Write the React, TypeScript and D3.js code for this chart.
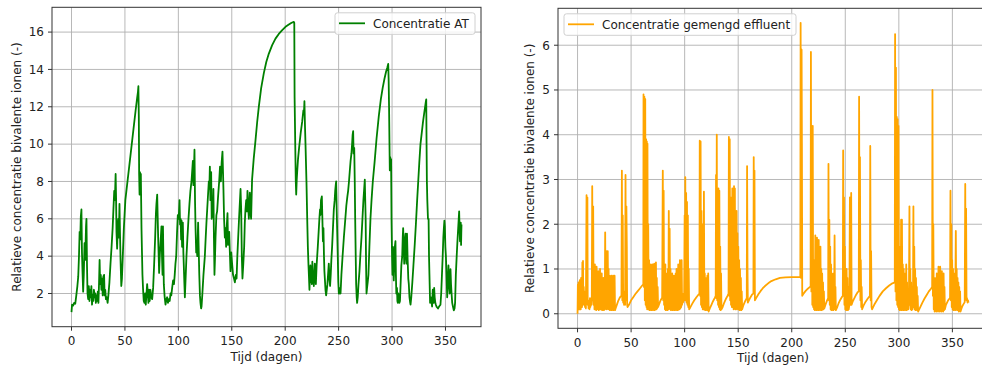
import React from 'react';
import * as d3 from 'd3';

const xTicks = [0, 50, 100, 150, 200, 250, 300, 350];
const atYTicks = [2, 4, 6, 8, 10, 12, 14, 16];
const effYTicks = [0, 1, 2, 3, 4, 5, 6];
const xLabel = 'Tijd (dagen)';
const yLabel = 'Relatieve concentratie bivalente ionen (-)';
const atLegend = 'Concentratie AT';
const effLegend = 'Concentratie gemengd effluent';

// [dag, relatieve concentratie] - Concentratie AT
const atSeries: [number, number][] = [
  [0,1.0],[0.5,1.4],[1.5,1.35],[2.5,1.5],[3.5,1.45],[4.5,1.9],[5.5,2.4],[6.3,2.9],[7,4.0],[7.6,5.3],[8.2,4.9],[8.7,6.1],[9.3,6.5],[9.8,4.2],[10.3,3.2],[10.9,2.1],[11.5,3.0],[12.2,4.7],[12.8,3.8],[13.6,5.6],[14.0,6.0],[14.5,3.5],[15.0,2.0],[15.6,1.7],[16.2,2.4],[16.8,1.6],[17.4,2.2],[18,1.8],[18.6,2.4],[19.2,1.4],[19.8,1.9],[20.4,1.6],[21,2.2],[21.6,1.8],[22.2,2.0],[22.8,1.5],[23.4,1.9],[24,1.6],[24.6,2.1],[25.2,1.5],[25.8,2.6],[26.3,3.8],[26.8,2.5],[27.4,3.0],[28,2.2],[28.6,2.8],[29.2,1.9],[29.8,2.9],[30.5,3.0],[31.0,1.9],[31.6,2.2],[32.2,1.7],[33,1.8],[33.8,1.5],[34.5,1.9],[35.5,2.6],[36.5,3.6],[37.5,4.5],[38.5,5.5],[39.3,6.6],[40.0,7.5],[40.6,7.0],[41.3,8.4],[41.7,7.2],[42.1,5.3],[42.7,4.4],[43.3,5.6],[43.8,6.0],[44.3,5.0],[44.9,6.8],[45.4,5.2],[45.9,3.8],[46.6,2.4],[47.2,2.8],[48,4.0],[49,5.5],[50.4,7.0],[52,7.8],[54,8.8],[56,9.8],[58,10.8],[60,11.8],[61.5,12.5],[62.2,12.8],[62.6,13.1],[63.0,11.5],[63.3,8.4],[63.7,7.3],[64.1,8.5],[64.5,7.5],[64.9,8.4],[65.5,5.5],[66.4,3.0],[67,2.2],[67.6,1.6],[68.3,1.5],[68.9,2.0],[69.5,1.4],[70.2,2.0],[70.8,2.5],[71.4,2.0],[72.0,1.5],[72.5,2.2],[73.2,1.6],[73.9,2.2],[74.6,1.8],[75.5,1.7],[76.4,2.3],[77.3,3.5],[78.3,5.0],[79.0,6.3],[79.5,6.8],[80.2,7.3],[80.7,6.0],[81.1,5.0],[81.6,4.0],[82.0,3.1],[82.6,4.0],[83.4,4.8],[84.2,5.6],[84.7,4.0],[85.2,3.0],[85.6,5.6],[86.0,4.0],[86.4,2.5],[87.2,1.8],[88.0,1.4],[88.8,1.7],[89.5,1.8],[90.3,1.5],[91.1,1.7],[91.9,1.6],[92.7,2.0],[93.4,1.9],[94.2,2.3],[95.1,2.7],[95.9,2.5],[96.6,3.0],[97.3,3.6],[98.0,4.0],[98.8,5.3],[99.5,6.2],[100.3,6.0],[101.1,7.0],[101.6,5.7],[102.1,6.0],[102.6,4.9],[103.0,5.9],[103.5,4.5],[104.2,5.8],[104.7,4.2],[105.1,3.5],[105.6,2.6],[106.1,1.8],[106.8,2.8],[107.6,4.0],[108.5,5.0],[109.5,6.0],[110.4,6.8],[111.3,7.5],[112.3,8.0],[113.0,8.6],[113.6,9.1],[114.1,7.8],[114.6,8.6],[115.1,9.7],[115.6,7.0],[116.1,5.5],[116.7,4.2],[117.2,4.5],[117.7,4.0],[118.5,5.8],[119.0,4.5],[119.6,3.0],[120.2,1.9],[120.7,1.5],[121.3,1.2],[121.7,1.3],[122.5,2.0],[123.5,3.0],[124.8,4.0],[125.6,5.0],[126.3,5.8],[127,6.5],[127.8,7.3],[128.5,8.0],[129.0,7.6],[129.5,8.8],[130.0,7.0],[130.7,8.5],[131.2,6.0],[131.8,6.9],[132.3,6.1],[132.8,7.6],[133.3,5.0],[133.8,3.0],[134.3,3.9],[134.8,5.0],[135.6,6.2],[136.3,6.4],[137.2,7.2],[138.2,8.0],[139.0,8.8],[139.8,8.0],[140.5,9.0],[141.3,9.6],[141.8,8.5],[142.2,7.6],[142.8,6.0],[143.5,5.0],[144.1,5.5],[144.7,4.5],[145.3,5.6],[146.0,6.3],[146.5,4.6],[147.0,5.0],[147.6,5.3],[148.2,4.2],[148.8,3.2],[149.5,4.2],[150.3,3.6],[151.2,3.0],[152.1,2.8],[152.9,2.6],[153.8,3.0],[154.5,2.8],[155.2,4.0],[156.0,5.0],[156.8,6.0],[157.5,6.8],[158.2,7.6],[158.8,6.5],[159.4,4.0],[160.0,2.8],[160.8,3.6],[161.6,4.5],[162.2,5.8],[162.8,6.5],[163.5,7.0],[164.2,6.4],[164.7,7.5],[165.4,6.6],[166.0,6.0],[166.5,6.8],[166.9,7.4],[167.5,6.4],[168.1,6.0],[169,8.1],[170.5,9.2],[172.2,10.2],[173.8,11.2],[175.3,12.0],[177.5,13.0],[180,13.8],[182.3,14.4],[184.7,14.85],[187.8,15.3],[190.9,15.65],[194,15.9],[197.2,16.1],[200.3,16.28],[203.4,16.4],[206,16.5],[208.1,16.55],[208.5,16.5],[208.8,12.5],[209.4,10.0],[209.9,8.0],[210.3,7.3],[210.8,8.1],[211.2,8.5],[212,9.2],[213,9.8],[214.5,10.6],[215.9,11.2],[217,11.8],[217.5,11.6],[218,12.3],[218.5,11.0],[219.0,10.0],[219.9,8.0],[220.6,6.0],[221.2,4.5],[221.8,3.5],[222.3,2.8],[222.7,2.2],[223.2,3.0],[223.6,3.5],[224.0,2.6],[224.5,3.0],[225.0,2.5],[225.4,3.7],[225.9,2.6],[226.3,3.0],[226.8,2.4],[227.3,3.2],[227.7,3.6],[228.2,2.8],[228.7,2.5],[229.4,3.5],[230.5,4.5],[231.3,5.3],[232.0,6.0],[232.6,6.5],[233.0,6.2],[233.5,7.0],[234.3,7.2],[234.8,6.0],[235.3,4.8],[235.8,5.5],[236.3,4.0],[236.7,3.2],[237.1,2.8],[237.7,2.2],[238.3,1.9],[238.9,2.2],[239.5,2.5],[240.1,3.0],[240.8,3.6],[241.4,2.8],[242.0,2.4],[242.6,3.0],[243.2,3.8],[243.9,4.5],[244.7,5.5],[245.5,6.5],[246.3,7.0],[246.8,7.5],[247.3,7.8],[247.7,8.0],[248.2,6.5],[248.6,5.5],[249.2,4.0],[249.7,2.6],[250.2,2.0],[250.8,2.0],[251.3,2.3],[251.8,2.0],[252.6,3.0],[253.7,4.0],[254.9,5.0],[256,5.8],[257.2,6.7],[258.2,7.2],[258.9,7.5],[259.7,8.0],[260.5,8.6],[261.2,9.1],[262.0,9.5],[262.6,10.0],[263.1,10.5],[263.6,10.7],[264.0,9.5],[264.6,9.8],[265.1,8.0],[265.5,6.0],[266.0,4.0],[266.4,2.5],[266.9,1.8],[267.3,1.5],[267.9,1.8],[268.6,2.5],[269.5,3.2],[270.5,4.2],[271.4,5.0],[272.3,6.0],[273.2,7.0],[273.9,7.6],[274.5,8.1],[274.9,7.0],[275.3,6.0],[275.7,3.5],[276.1,2.0],[276.6,2.3],[277.2,2.6],[277.9,3.0],[278.8,4.5],[279.8,6.0],[280.8,7.0],[282,8.0],[283.6,9.0],[285.5,10.3],[287.6,11.5],[289.5,12.4],[291.2,13.0],[292.9,13.5],[294.5,13.9],[295.6,14.1],[296.4,14.3],[296.8,13.5],[297.2,12.0],[297.6,10.0],[297.9,8.6],[298.3,9.3],[298.7,8.7],[299.1,9.2],[299.5,6.0],[300.0,4.0],[300.4,3.0],[300.8,4.5],[301.2,3.5],[301.6,2.7],[302.1,3.6],[302.6,4.5],[303.2,4.8],[303.6,3.0],[304.0,2.0],[304.6,2.3],[305.0,1.6],[305.4,1.5],[305.9,2.0],[306.4,1.7],[306.9,1.5],[307.4,1.6],[308.0,2.5],[308.7,3.5],[309.5,4.0],[310.0,5.0],[310.4,5.5],[310.9,4.5],[311.4,3.6],[312.0,4.8],[312.6,5.2],[313.0,4.0],[313.5,3.6],[314.0,5.2],[314.6,3.8],[315.2,2.8],[315.7,2.5],[316.3,1.8],[317.0,1.5],[317.3,1.4],[318.0,1.8],[319.0,2.6],[320.0,3.5],[321.2,4.6],[322.4,5.8],[323.5,7.0],[324.5,8.0],[325.5,9.0],[326.6,10.0],[327.8,10.6],[329,11.2],[330.2,11.7],[331.2,12.1],[331.7,12.3],[332.0,12.4],[332.3,10.0],[332.6,8.0],[333,7.0],[333.6,6.0],[334.2,6.0],[334.6,4.0],[335.0,3.0],[335.6,1.5],[336.2,1.8],[336.8,1.6],[337.5,1.3],[338.1,2.2],[338.6,1.6],[339.0,1.5],[339.4,2.3],[339.9,1.8],[340.5,1.5],[341.0,1.4],[341.6,1.3],[342.3,1.25],[343,1.2],[344,1.3],[345.3,1.4],[346,2.0],[346.7,3.0],[347.4,4.0],[348.0,5.0],[348.5,5.5],[349.0,5.9],[349.4,5.6],[349.9,4.5],[350.4,4.0],[351.0,3.0],[351.6,1.8],[352.2,2.5],[352.8,3.5],[353.4,2.5],[354.0,2.0],[354.7,3.3],[355.2,2.5],[355.7,2.0],[356.3,1.5],[357.0,1.3],[357.8,1.1],[358.5,1.2],[359.0,1.5],[359.7,3.0],[360.5,4.0],[361.2,4.8],[361.9,5.5],[362.4,6.0],[362.8,6.4],[363.2,5.5],[363.6,4.8],[364.0,5.5],[364.3,5.8],[364.6,4.6],[364.8,5.2],[365,5.7]
];

// [dag, relatieve concentratie] - Concentratie gemengd effluent
const effSeries: [number, number][] = [
  [0,0],[0.3,0.65],[0.6,0.1],[0.9,0.7],[1.2,0.12],[1.5,0.68],[1.8,0.1],[2.1,0.75],[2.4,0.15],[2.7,0.6],[3.0,0.1],[3.3,0.8],[3.6,0.2],[3.9,0.75],[4.2,0.15],[4.5,1.15],[4.8,0.2],[5.1,1.18],[5.4,0.25],[5.8,0.6],[6.2,0.2],[6.6,0.5],[7.0,0.15],[7.4,0.3],[7.8,0.12],[8.4,2.65],[8.8,0.3],[9.2,2.6],[9.5,0.2],[9.9,0.3],[10.3,0.12],[10.7,0.25],[11.2,0.1],[11.6,0.35],[12.0,0.15],[12.4,0.28],[12.9,0.2],[13.3,0.3],[13.7,2.85],[14.1,0.5],[14.6,2.4],[15.0,0.2],[15.4,0.9],[15.8,0.1],[16.2,1.1],[16.6,0.15],[17.0,0.7],[17.4,0.08],[17.8,1.05],[18.2,0.12],[18.6,0.8],[19.0,0.1],[19.4,0.95],[19.8,0.08],[20.2,0.6],[20.6,0.12],[21.0,1.0],[21.4,0.1],[21.8,0.75],[22.2,0.1],[22.6,0.9],[23.0,0.08],[23.4,0.7],[23.8,0.1],[24.2,0.8],[24.6,0.08],[25.0,0.65],[25.4,0.1],[25.8,1.82],[26.2,0.15],[26.6,1.2],[27.0,0.1],[27.4,1.4],[27.8,0.15],[28.2,1.4],[28.6,0.1],[29.0,1.0],[29.4,0.12],[29.8,0.85],[30.2,0.08],[30.6,0.8],[31.0,0.1],[31.4,0.85],[31.8,0.08],[32.2,0.85],[32.6,0.1],[33.0,0.8],[33.4,0.08],[33.8,0.85],[34.2,0.1],[34.6,0.85],[35.0,0.08],
  [36,0.15],[37,0.22],[38,0.29],[39,0.34],[40,0.38],[41,0.4],
  [41.4,3.2],[41.8,0.3],[42.2,2.2],[42.6,0.25],[43.0,0.5],[43.4,0.2],[44.0,0.4],[44.4,0.2],[44.8,3.1],[45.2,0.3],[45.6,2.4],[46.0,1.5],[46.3,0.2],[46.7,0.15],
  [48,0.2],[50,0.3],[52,0.37],[54,0.44],[56,0.5],[58,0.56],[60,0.62],[61.4,0.66],
  [61.6,4.9],[62.0,0.6],[62.4,4.85],[62.8,0.3],[63.2,4.8],[63.6,0.2],[64.0,3.9],[64.4,0.15],[64.7,3.85],[65.0,0.1],[65.3,3.8],[65.6,0.2],[66.0,2.0],[66.4,0.1],[66.8,1.2],[67.2,0.08],[67.6,0.9],[68.0,0.1],[68.4,1.1],[68.8,0.08],[69.2,0.8],[69.6,0.1],[70.0,1.1],[70.4,0.08],[70.8,0.9],[71.2,0.1],[71.6,1.12],[72.0,0.08],[72.4,0.7],[72.8,0.1],[73.2,1.15],[73.6,0.1],[74.0,0.8],[74.4,0.12],[74.8,0.6],[75.2,0.15],
  [76,0.2],[77,0.27],[78,0.32],[79,0.36],
  [79.6,3.2],[80.0,0.3],[80.4,2.75],[80.8,0.2],[81.2,0.9],[81.6,0.1],[82.0,1.1],[82.4,0.08],[82.8,0.8],[83.2,0.1],[83.6,0.9],[84.0,0.08],[84.4,1.0],[84.8,0.1],[85.2,2.3],[85.6,0.15],[86.0,1.9],[86.4,0.1],[86.8,1.0],[87.2,0.08],[87.6,0.8],[88.0,0.1],[88.4,0.9],[88.8,0.08],[89.2,0.75],[89.6,0.1],[90.0,0.85],[90.4,0.08],[90.8,0.8],[91.2,0.1],[91.6,0.9],[92.0,0.08],[92.4,1.0],[92.8,0.1],[93.2,0.85],[93.6,0.08],[94.0,1.1],[94.4,0.1],[94.8,1.0],[95.2,0.1],[95.6,1.2],[96.0,0.12],[96.4,1.15],[96.8,0.15],[97.2,1.2],[97.6,0.2],[98.0,0.4],[98.5,0.25],[99.0,0.45],[99.5,0.3],
  [100.0,2.2],[100.4,0.3],[100.6,3.05],[101.0,0.4],[101.4,2.7],[101.8,0.25],[102.2,2.5],[102.6,0.2],[103.0,2.2],[103.4,0.15],[103.8,1.0],[104.2,0.1],
  [105,0.13],[107,0.22],[109,0.3],[111,0.37],[113,0.43],[113.8,0.45],
  [114.1,3.87],[114.5,0.4],[114.9,3.85],[115.3,0.2],[115.7,2.3],[116.1,0.15],[116.5,1.2],[116.9,0.1],[117.3,2.0],[117.7,0.1],[118.0,2.73],[118.4,0.1],[118.8,0.9],[119.2,0.08],[119.6,0.8],[120.0,0.1],[120.4,0.7],[120.8,0.08],[121.2,0.85],[121.6,0.1],[122.0,0.9],[122.4,0.05],
  [123.5,0.12],[125,0.2],[126.5,0.28],[128,0.35],[129,0.4],
  [129.3,3.1],[129.6,0.35],[130.0,4.0],[130.4,0.3],[130.8,2.8],[131.2,0.2],[131.6,2.8],[132.0,0.15],[132.4,2.75],[132.8,0.1],[133.2,1.5],[133.6,0.08],[134.0,0.9],[134.4,0.1],
  [135.5,0.15],[137,0.25],[138.5,0.33],[140,0.4],[141,0.45],
  [141.3,3.95],[141.7,0.4],[142.1,3.9],[142.5,0.3],[142.9,2.5],[143.3,0.2],[143.7,2.6],[144.1,0.15],[144.5,2.8],[144.9,0.15],[145.3,2.0],[145.7,0.1],[146.1,2.85],[146.5,0.12],[146.9,2.8],[147.3,0.1],[147.7,2.3],[148.1,0.1],[148.5,2.3],[148.9,0.12],[149.3,1.8],[149.7,0.1],[150.1,1.5],[150.5,0.1],[150.9,1.2],[151.3,0.08],[151.7,1.0],[152.1,0.1],[152.5,0.8],[152.9,0.08],[153.3,0.5],[153.7,0.1],
  [155,0.2],[156.5,0.28],[158,0.35],
  [158.3,3.3],[158.7,1.0],[159.0,0.25],[160,0.3],[161.5,0.37],[163,0.43],[164.2,0.45],[164.5,3.5],[164.9,0.5],[165.2,3.2],[165.6,0.3],
  [167,0.36],[169,0.44],[171,0.51],[173,0.57],[175,0.62],[178,0.68],[181,0.73],[185,0.77],[189,0.8],[194,0.815],[200,0.82],[208,0.82],
  [208.3,6.5],[208.7,0.8],[209.2,5.9],[209.5,3.8],[209.8,0.4],
  [211,0.45],[213,0.51],[215,0.56],[217,0.6],[217.6,0.62],
  [217.9,5.85],[218.3,0.5],[218.8,4.2],[219.2,0.2],[219.6,4.2],[220.0,0.15],[220.4,1.2],[220.8,0.1],[221.2,1.0],[221.6,0.08],[222.0,1.75],[222.4,0.1],[222.8,0.9],[223.2,0.08],[223.6,1.7],[224.0,0.1],[224.4,1.2],[224.8,0.08],[225.2,1.65],[225.6,0.1],[226.0,1.3],[226.4,0.08],[226.8,1.5],[227.2,0.1],[227.6,1.0],[228.0,0.08],[228.4,0.9],[228.8,0.1],[229.2,0.7],[229.6,0.1],[230.0,0.5],[230.4,0.12],
  [231.5,0.2],[233,0.3],[234,0.35],
  [234.3,3.35],[234.7,0.3],[235.1,2.1],[235.5,0.2],[235.9,1.5],[236.3,0.1],[236.7,1.1],[237.1,0.08],[237.5,0.9],[237.9,0.1],[238.3,0.7],[238.7,0.08],[239.1,0.9],[239.5,0.1],[240.0,1.75],[240.4,0.1],[240.8,0.6],[241.2,0.08],
  [242.5,0.15],[244,0.25],[245.5,0.32],[247,0.38],[247.7,0.4],
  [248.0,3.65],[248.4,0.4],[248.8,2.6],[249.2,0.2],[249.6,1.5],[250.0,0.1],[250.4,0.9],[250.8,0.08],[251.2,1.0],[251.6,0.1],[252.0,0.8],[252.4,0.08],[252.8,0.6],[253.2,0.1],
  [253.8,0.2],[254.3,2.6],[254.7,0.2],[255.1,0.4],[255.5,2.7],[255.9,0.2],
  [257,0.28],[258.5,0.35],[260,0.42],[261.5,0.48],[262.6,0.5],
  [262.9,4.85],[263.3,0.6],[263.7,3.5],[264.1,0.3],[264.5,1.2],[264.9,0.15],[265.3,0.6],[265.7,0.1],
  [267,0.18],[269,0.27],[271,0.34],[273,0.4],
  [273.3,3.75],[273.7,0.3],[274.1,1.4],[274.5,0.15],[275,0.1],
  [277,0.2],[279.5,0.3],[282,0.4],[285,0.5],[288,0.57],[291,0.63],[294,0.68],[296.2,0.7],
  [296.5,6.25],[296.9,0.5],[297.3,5.5],[297.7,0.3],[298.1,4.4],[298.5,0.2],[298.9,4.35],[299.3,0.15],[299.7,4.2],[300.1,0.1],[300.5,1.5],[300.9,0.08],[301.3,1.2],[301.7,0.1],[302.1,2.1],[302.5,0.08],[302.9,2.1],[303.3,0.1],[303.7,1.1],[304.1,0.08],[304.5,1.0],[304.9,0.1],[305.3,0.9],[305.7,0.08],[306.1,0.8],[306.5,0.1],[306.9,1.1],[307.3,0.08],[307.7,0.7],[308.1,0.1],[308.5,0.5],[308.9,0.1],
  [309.4,0.25],[309.9,2.4],[310.3,0.2],[310.7,1.0],[311.1,0.1],[311.5,0.7],[311.9,0.08],[312.3,0.5],[312.7,0.1],[313.2,0.3],[313.6,2.4],[314.0,0.15],[314.4,1.5],[314.8,0.1],[315.2,1.0],[315.6,0.08],[316.0,0.8],[316.4,0.1],[316.8,0.6],[317.2,0.08],[317.6,0.4],[318.0,0.05],
  [320,0.15],[322,0.25],[324,0.34],[326,0.42],[328,0.5],[330,0.56],[331.1,0.6],
  [331.4,5.0],[331.8,0.4],[332.2,2.0],[332.6,0.1],[333.0,0.8],[333.4,0.05],[333.8,0.7],[334.2,0.08],[334.6,0.8],[335.0,0.05],[335.4,0.9],[335.8,0.08],[336.2,0.7],[336.6,0.05],[337.0,1.05],[337.4,0.08],[337.8,0.9],[338.2,0.05],[338.6,1.05],[339.0,0.08],[339.4,0.8],[339.8,0.05],[340.2,0.95],[340.6,0.1],[341.0,0.7],[341.4,0.05],[341.8,0.9],[342.2,0.08],[342.6,0.6],[343.0,0.1],
  [344,0.2],[345,0.25],[346,0.3],[347,0.33],[347.8,0.35],
  [348.2,2.75],[348.6,0.3],[349.0,2.0],[349.4,0.15],[349.8,1.2],[350.2,0.1],[350.6,1.0],[351.0,0.08],[351.4,0.8],[351.8,0.1],[352.2,0.9],[352.6,0.08],[353.2,1.85],[353.6,0.1],[354.0,1.0],[354.4,0.08],[354.8,0.8],[355.2,0.1],[355.6,0.7],[356.0,0.05],[356.4,0.6],[356.8,0.08],[357.2,0.5],[357.6,0.05],
  [358.5,0.12],[359.5,0.18],[360.5,0.22],[361.5,0.26],
  [362.0,2.9],[362.4,0.4],[362.8,2.35],[363.2,0.3],[363.6,0.35],[364.2,0.25],[364.6,0.3],[365,0.25]
];

const FONT = '"DejaVu Sans", "Liberation Sans", sans-serif';
const FS = 12;

type PanelProps = {
  data: [number, number][];
  color: string;
  left: number; right: number; top: number; bottom: number;
  yTicks: number[];
  yLabelOffset: number;
  legend: string;
  legendRight: boolean;
  legendW: number;
};

function Panel({ data, color, left, right, top, bottom, yTicks, yLabelOffset, legend, legendRight, legendW }: PanelProps) {
  const [x0, x1] = d3.extent(data, d => d[0]) as [number, number];
  const [y0, y1] = d3.extent(data, d => d[1]) as [number, number];
  const px = (x1 - x0) * 0.05;
  const py = (y1 - y0) * 0.05;
  const x = d3.scaleLinear().domain([x0 - px, x1 + px]).range([left, right]);
  const y = d3.scaleLinear().domain([y0 - py, y1 + py]).range([bottom, top]);
  const line = d3.line<[number, number]>().x(d => x(d[0])).y(d => y(d[1]));
  const clipId = 'clip' + Math.round(left);
  const cx = (left + right) / 2;
  const cy = (top + bottom) / 2;
  const lgX = legendRight ? right - 6 - legendW : left + 6;
  const lgY = top + 5.5;
  return (
    <g>
      <defs>
        <clipPath id={clipId}>
          <rect x={left} y={top} width={right - left} height={bottom - top} />
        </clipPath>
      </defs>
      {xTicks.map(t => (
        <line key={'gx' + t} x1={x(t)} x2={x(t)} y1={top} y2={bottom} stroke="#b0b0b0" strokeWidth={0.9} />
      ))}
      {yTicks.map(t => (
        <line key={'gy' + t} x1={left} x2={right} y1={y(t)} y2={y(t)} stroke="#b0b0b0" strokeWidth={0.9} />
      ))}
      <path d={line(data) || ''} fill="none" stroke={color} strokeWidth={1.8} strokeLinejoin="round" clipPath={`url(#${clipId})`} />
      <rect x={left} y={top} width={right - left} height={bottom - top} fill="none" stroke="#333" strokeWidth={1} />
      {xTicks.map(t => (
        <g key={'tx' + t}>
          <line x1={x(t)} x2={x(t)} y1={bottom} y2={bottom + 4} stroke="#333" strokeWidth={1} />
          <text x={x(t)} y={bottom + 18.5} textAnchor="middle" fontFamily={FONT} fontSize={FS} fill="#222">{t}</text>
        </g>
      ))}
      {yTicks.map(t => (
        <g key={'ty' + t}>
          <line x1={left - 4} x2={left} y1={y(t)} y2={y(t)} stroke="#333" strokeWidth={1} />
          <text x={left - 8} y={y(t) + 4.3} textAnchor="end" fontFamily={FONT} fontSize={FS} fill="#222">{t}</text>
        </g>
      ))}
      <text x={cx} y={bottom + 34} textAnchor="middle" fontFamily={FONT} fontSize={FS} fill="#222">{xLabel}</text>
      <text transform={`translate(${left - yLabelOffset},${cy}) rotate(-90)`} textAnchor="middle" fontFamily={FONT} fontSize={FS} fill="#222">{yLabel}</text>
      <g>
        <rect x={lgX} y={lgY} width={legendW} height={21.5} rx={2.5} fill="white" fillOpacity={0.8} stroke="#d0d0d0" strokeWidth={1} />
        <line x1={lgX + 4} x2={lgX + 30} y1={lgY + 10.5} y2={lgY + 10.5} stroke={color} strokeWidth={1.8} />
        <text x={lgX + 38} y={lgY + 15} fontFamily={FONT} fontSize={FS} fill="#222">{legend}</text>
      </g>
    </g>
  );
}

export default function App() {
  return (
    <svg width={982} height={367} viewBox="0 0 982 367" style={{ position: 'absolute', left: 0, top: 0, background: 'white' }}>
      <rect x={0} y={0} width={982} height={367} fill="white" />
      <Panel data={atSeries} color="green" left={52} right={481} top={7.3} bottom={326.7}
        yTicks={atYTicks} yLabelOffset={31} legend={atLegend} legendRight={true} legendW={140} />
      <Panel data={effSeries} color="orange" left={558} right={988} top={8.3} bottom={328.3}
        yTicks={effYTicks} yLabelOffset={24} legend={effLegend} legendRight={false} legendW={232} />
    </svg>
  );
}
